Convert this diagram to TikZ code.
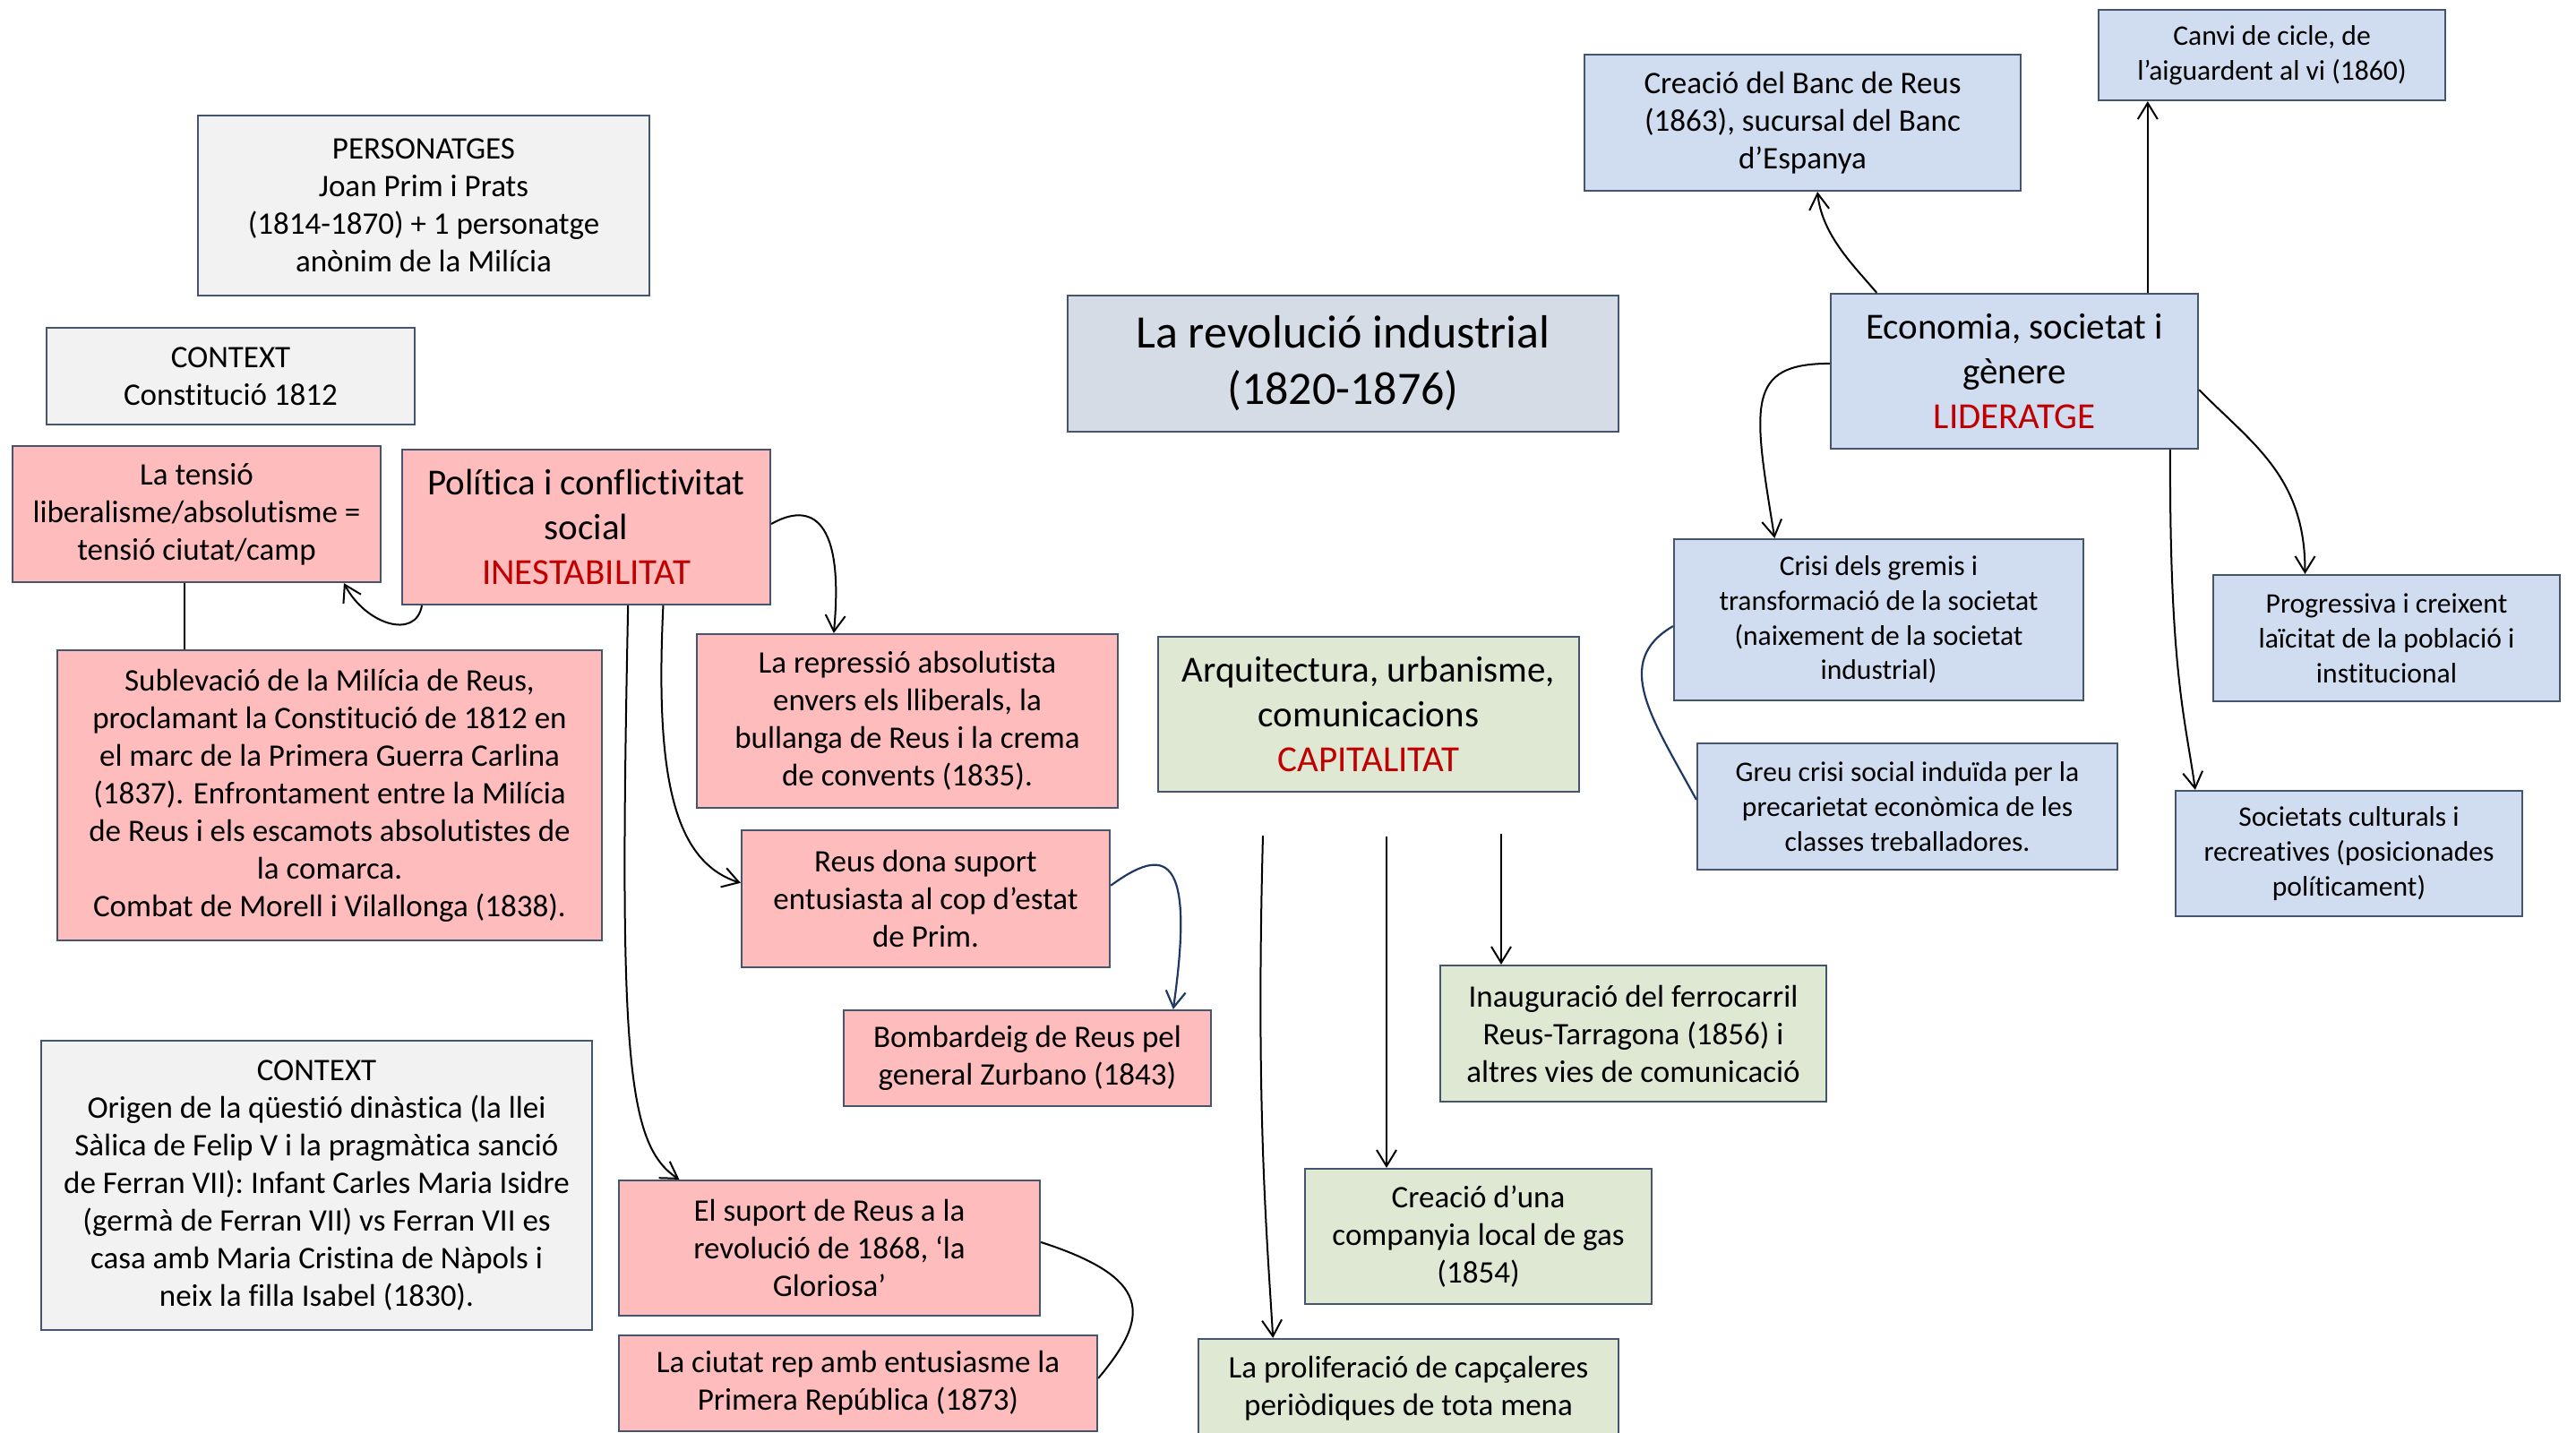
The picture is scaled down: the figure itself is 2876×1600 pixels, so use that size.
\documentclass[tikz,border=0pt]{standalone}
\usepackage{fontspec}
\setmainfont{Carlito}[Ligatures=NoCommon]
\usetikzlibrary{arrows.meta,calc}
\definecolor{bord}{HTML}{46556E}
\definecolor{pinkf}{HTML}{FFBCBC}
\definecolor{grayf}{HTML}{F2F2F2}
\definecolor{titlef}{HTML}{D6DCE5}
\definecolor{bluef}{HTML}{D0DCF0}
\definecolor{greenf}{HTML}{DEE8D3}
\definecolor{redt}{HTML}{C00000}
\definecolor{navy}{HTML}{1F3864}
\begin{document}
\begin{tikzpicture}[x=0.5pt,y=-0.5pt,
  box/.style={draw=bord,line width=1.1pt,rectangle,align=center,inner sep=0pt,font=\fontsize{17.5}{21}\selectfont},
  bigtxt/.style={font=\fontsize{26}{31.5}\selectfont},
  medtxt/.style={font=\fontsize{20.5}{25}\selectfont},
  smalltxt/.style={font=\fontsize{15.8}{19.4}\selectfont},
  pinkbox/.style={box,fill=pinkf},
  graybox/.style={box,fill=grayf},
  bluebox/.style={box,fill=bluef},
  greenbox/.style={box,fill=greenf},
  titlebox/.style={box,fill=titlef,bigtxt},
  conn/.style={line width=1pt,draw=black},
  arr/.style={conn,-{Straight Barb[length=9pt,width=11pt]}}
]
\useasboundingbox (0,0) rectangle (2876,1600);

% ---- nodes ----
\node[graybox,minimum width=252pt,minimum height=100.5pt] (pers) at (473,229.5)
  {PERSONATGES\\Joan Prim i Prats\\(1814-1870) + 1 personatge\\anònim de la Milícia};
\node[graybox,minimum width=205.5pt,minimum height=54pt] (ctx1) at (257.5,420)
  {CONTEXT\\Constitució 1812};
\node[pinkbox,minimum width=205.5pt,minimum height=76pt] (tens) at (219.5,574)
  {La tensió\\liberalisme/absolutisme =\\tensió ciutat/camp};
\node[pinkbox,medtxt,minimum width=205.5pt,minimum height=86.5pt] (pol) at (654.5,588.5)
  {Política i conflictivitat\\social\\\textcolor{redt}{INESTABILITAT}};
\node[pinkbox,minimum width=304pt,minimum height=162pt] (subl) at (368,888)
  {Sublevació de la Milícia de Reus,\\proclamant la Constitució de 1812 en\\el marc de la Primera Guerra Carlina\\(1837). Enfrontament entre la Milícia\\de Reus i els escamots absolutistes de\\la comarca.\\Combat de Morell i Vilallonga (1838).};
\node[pinkbox,minimum width=235pt,minimum height=97pt] (repr) at (1013,805)
  {La repressió absolutista\\envers els lliberals, la\\bullanga de Reus i la crema\\de convents (1835).};
\node[pinkbox,minimum width=205.5pt,minimum height=76.5pt] (reusd) at (1033.5,1003.5)
  {Reus dona suport\\entusiasta al cop d’estat\\de Prim.};
\node[pinkbox,minimum width=205pt,minimum height=53.5pt] (bomb) at (1147,1181.5)
  {Bombardeig de Reus pel\\general Zurbano (1843)};
\node[graybox,minimum width=307.5pt,minimum height=161.5pt] (ctx2) at (353.5,1323.5)
  {CONTEXT\\Origen de la qüestió dinàstica (la llei\\Sàlica de Felip V i la pragmàtica sanció\\de Ferran VII): Infant Carles Maria Isidre\\(germà de Ferran VII) vs Ferran VII es\\casa amb Maria Cristina de Nàpols i\\neix la filla Isabel (1830).};
\node[pinkbox,minimum width=235pt,minimum height=75.5pt] (sup68) at (926,1393.5)
  {El suport de Reus a la\\revolució de 1868, ‘la\\Gloriosa’};
\node[pinkbox,minimum width=267pt,minimum height=53.5pt] (ciut) at (958,1544.5)
  {La ciutat rep amb entusiasme la\\Primera República (1873)};
\node[titlebox,minimum width=307.5pt,minimum height=76pt] (title) at (1499.5,406)
  {La revolució industrial\\(1820-1876)};
\node[greenbox,medtxt,minimum width=235pt,minimum height=86.5pt] (arq) at (1528,797.5)
  {Arquitectura, urbanisme,\\comunicacions\\\textcolor{redt}{CAPITALITAT}};
\node[greenbox,minimum width=215.5pt,minimum height=76pt] (inaug) at (1823.5,1154)
  {Inauguració del ferrocarril\\Reus-Tarragona (1856) i\\altres vies de comunicació};
\node[greenbox,minimum width=193.5pt,minimum height=75.5pt] (gas) at (1650.5,1380.5)
  {Creació d’una\\companyia local de gas\\(1854)};
\node[greenbox,minimum width=234.5pt,minimum height=55.5pt] (prol) at (1572.5,1550.5)
  {La proliferació de capçaleres\\periòdiques de tota mena};
\node[bluebox,minimum width=243.5pt,minimum height=76pt] (banc) at (2012.5,137)
  {Creació del Banc de Reus\\(1863), sucursal del Banc\\d’Espanya};
\node[bluebox,smalltxt,minimum width=193.5pt,minimum height=50.5pt] (canvi) at (2536.5,61.5)
  {Canvi de cicle, de\\l’aiguardent al vi (1860)};
\node[bluebox,medtxt,minimum width=205pt,minimum height=86.5pt] (eco) at (2249,414.5)
  {Economia, societat i\\gènere\\\textcolor{redt}{LIDERATGE}};
\node[bluebox,smalltxt,minimum width=228.5pt,minimum height=90pt] (gremi) at (2097.5,692)
  {Crisi dels gremis i\\transformació de la societat\\(naixement de la societat\\industrial)};
\node[bluebox,smalltxt,minimum width=193.5pt,minimum height=70.5pt] (progr) at (2664.5,712.5)
  {Progressiva i creixent\\laïcitat de la població i\\institucional};
\node[bluebox,smalltxt,minimum width=234.5pt,minimum height=70.5pt] (greu) at (2129.5,900.5)
  {Greu crisi social induïda per la\\precarietat econòmica de les\\classes treballadores.};
\node[bluebox,smalltxt,minimum width=193.5pt,minimum height=70pt] (soc) at (2622.5,953)
  {Societats culturals i\\recreatives (posicionades\\políticament)};

% ---- connectors: left cluster ----
\coordinate (ta) at ($(tens.south west)!0.467!(tens.south east)$);
\draw[conn] (ta) -- (ta |- subl.north);
\draw[arr] ($(pol.south west)!0.056!(pol.south east)$) .. controls (464,715) and (408,697) .. ($(tens.south west)!0.898!(tens.south east)$);
\draw[arr] ($(pol.north east)!0.48!(pol.south east)$) .. controls (905,560) and (943,578) .. ($(repr.north west)!0.326!(repr.north east)$);
\draw[arr] ($(pol.south west)!0.708!(pol.south east)$) .. controls (732,855) and (748,961) .. ($(reusd.north west)!0.386!(reusd.south west)$);
\draw[arr] ($(pol.south west)!0.613!(pol.south east)$) .. controls (691,1175) and (699,1278) .. ($(sup68.north west)!0.145!(sup68.north east)$);
\draw[arr,draw=navy,line width=1.1pt] ($(reusd.north east)!0.405!(reusd.south east)$) .. controls (1300,945) and (1335,950) .. ($(bomb.north west)!0.895!(bomb.north east)$);
\draw[conn] ($(sup68.north east)!0.457!(sup68.south east)$) .. controls (1286,1427) and (1285,1469) .. ($(ciut.north east)!0.449!(ciut.south east)$);

% ---- connectors: middle ----
\coordinate (q1) at (1410,933);
\coordinate (q2) at (1548,934);
\coordinate (q3) at (1676,931);
\draw[arr] (q1) .. controls (1402,1233) and (1414,1375) .. ($(prol.north west)!0.179!(prol.north east)$);
\draw[arr] (q2) -- (q2 |- gas.north);
\draw[arr] (q3) -- (q3 |- inaug.north);

% ---- connectors: right cluster ----
\draw[arr] ($(eco.north west)!0.127!(eco.north east)$) .. controls (2071,298) and (2034,263) .. ($(banc.south west)!0.534!(banc.south east)$);
\coordinate (ej) at ($(eco.north west)!0.861!(eco.north east)$);
\draw[arr] (ej) -- (ej |- canvi.south);
\draw[arr] ($(eco.north west)!0.451!(eco.south west)$) .. controls (1949,406) and (1957,452) .. ($(gremi.north west)!0.247!(gremi.north east)$);
\draw[arr] ($(eco.north east)!0.618!(eco.south east)$) .. controls (2514,495) and (2574,532) .. ($(progr.north west)!0.266!(progr.north east)$);
\draw[arr] ($(eco.south west)!0.922!(eco.south east)$) .. controls (2422,751) and (2440,803) .. ($(soc.north west)!0.059!(soc.north east)$);
\draw[conn,draw=navy,line width=1.1pt] ($(gremi.north west)!0.539!(gremi.south west)$) .. controls (1799,739) and (1845,803) .. ($(greu.north west)!0.447!(greu.south west)$);
\end{tikzpicture}
\end{document}
